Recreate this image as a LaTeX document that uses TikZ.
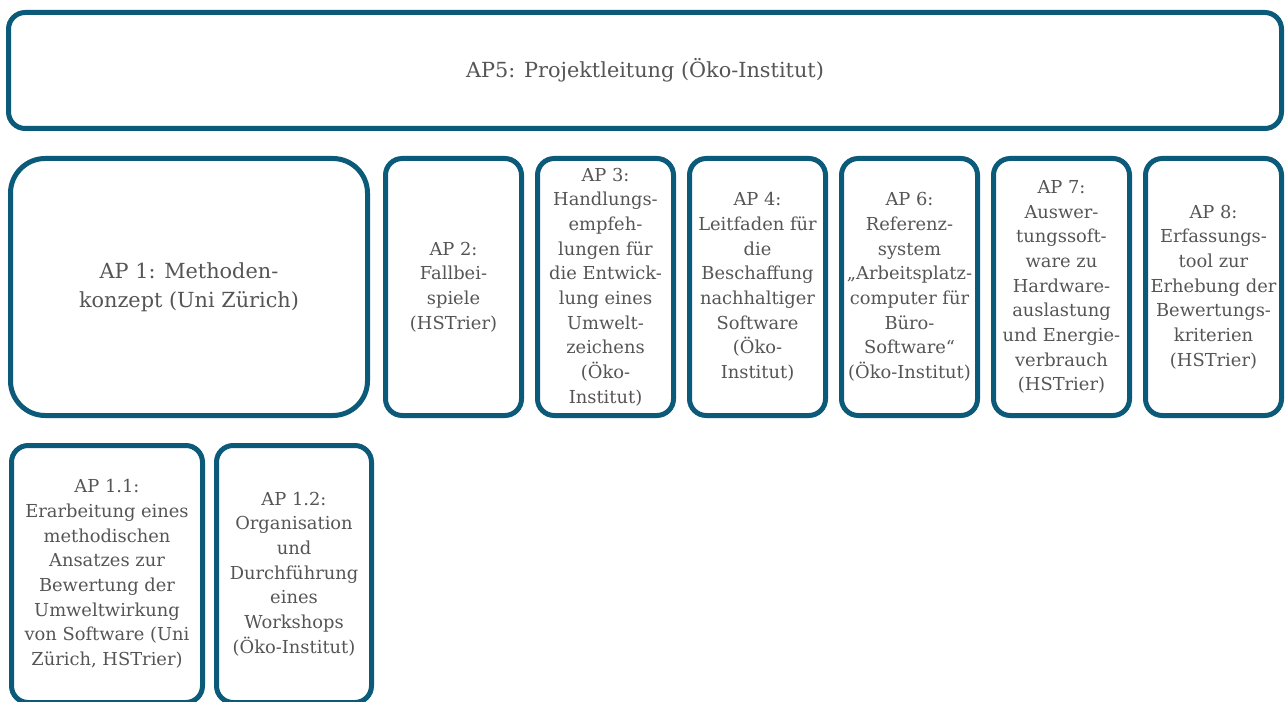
\documentclass[tikz,border=0pt]{standalone}
\usepackage{fontspec}
\setmainfont{DejaVu Serif}
\usepackage{xcolor}
\begin{document}
\begin{tikzpicture}[x=0.75pt,y=-0.75pt,
  apnode/.style={draw=petrol,line width=3.75pt,rounded corners=12.5pt,align=center,
    text=textgrey,font=\fontsize{13.4}{18.5}\selectfont,inner sep=0pt},
  bignode/.style={apnode,font=\fontsize{15.6}{21.5}\selectfont},
  smallnode/.style={apnode,minimum width=102pt,minimum height=192.75pt}]
\definecolor{petrol}{HTML}{0B5A7A}
\definecolor{textgrey}{HTML}{555555}
\clip (0,0) rectangle (1288,702);
\node [bignode,minimum width=954.75pt,minimum height=87pt] (ap5) at (645,70.5) {AP5: Projektleitung (Öko-Institut)};
\node [bignode,rounded corners=26pt,minimum width=267.75pt,minimum height=192.75pt] (ap1) at (189,287) {AP 1: Methoden-\\konzept (Uni Zürich)};
  \foreach \name/\pos/\txt in {ap2/453.5/{AP 2:\\Fallbei-\\spiele\\(HSTrier)},
    ap3/605.5/{AP 3:\\Handlungs-\\empfeh-\\lungen für\\die Entwick-\\lung eines\\Umwelt-\\zeichens\\(Öko-\\Institut)},
    ap4/757.5/{AP 4:\\Leitfaden für\\die\\Beschaffung\\nachhaltiger\\Software\\(Öko-\\Institut)},
    ap6/909.5/{AP 6:\\Referenz-\\system\\„Arbeitsplatz-\\computer für\\Büro-\\Software“\\(Öko-Institut)},
    ap7/1061.5/{AP 7:\\Auswer-\\tungssoft-\\ware zu\\Hardware-\\auslastung\\und Energie-\\verbrauch\\(HSTrier)},
    ap8/1213.5/{AP 8:\\Erfassungs-\\tool zur\\Erhebung der\\Bewertungs-\\kriterien\\(HSTrier)}}
  {  \node [smallnode] (\name) at (\pos,287) {\txt};}
\node [apnode,minimum width=143.25pt,minimum height=192.75pt] (ap11) at (107,574) {AP 1.1:\\Erarbeitung eines\\methodischen\\Ansatzes zur\\Bewertung der\\Umweltwirkung\\von Software (Uni\\Zürich, HSTrier)};
\node [apnode,minimum width=116.25pt,minimum height=192.75pt] (ap12) at (294,574) {AP 1.2:\\Organisation\\und\\Durchführung\\eines\\Workshops\\(Öko-Institut)};
\end{tikzpicture}
\end{document}
